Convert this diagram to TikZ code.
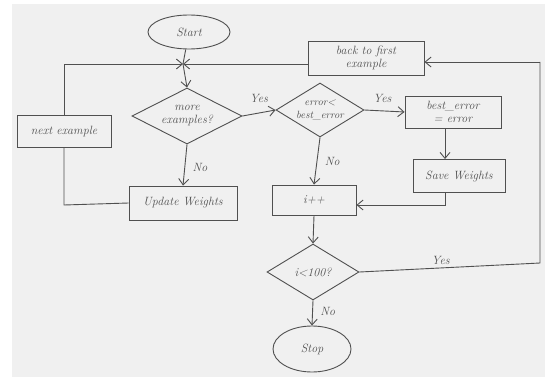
\documentclass[tikz,border=0pt]{standalone}
\usetikzlibrary{shapes.geometric,arrows.meta}
\definecolor{bg}{HTML}{F0F0F0}
\definecolor{ink}{HTML}{505050}
\begin{document}
\begin{tikzpicture}[x=1pt,y=-1pt,
  every node/.style={font=\itshape\fontsize{12}{13}\selectfont, text=ink},
  procbox/.style={draw=ink, line width=0.9pt, rectangle, inner sep=0pt, align=center},
  decide/.style={draw=ink, line width=0.9pt, diamond, inner sep=0pt, align=center, aspect=2},
  term/.style={draw=ink, line width=0.9pt, ellipse, inner sep=0pt},
  flow/.style={draw=ink, line width=0.9pt, -{Straight Barb[length=6pt,width=10pt]}},
  link/.style={draw=ink, line width=0.9pt},
  lbl/.style={font=\itshape\fontsize{12}{13}\selectfont}]
\useasboundingbox (0,0) rectangle (545,377);
\fill[white] (0,0) rectangle (545,377);
\fill[bg] (12,4) rectangle (545,377);

\node[term, minimum width=82pt, minimum height=34pt] (start) at (189,32) {Start};
\coordinate (join) at (183,64);
\node[decide, minimum width=110pt, minimum height=56pt] (more) at (187,116) {more\\examples?};
\node[procbox, minimum width=94pt, minimum height=32pt] (next) at (64,131) {next example};
\node[procbox, minimum width=108pt, minimum height=34pt] (update) at (183,203) {Update Weights};
\node[procbox, minimum width=116pt, minimum height=34pt] (back) at (366,58) {back to first\\example};
\node[decide, minimum width=88pt, minimum height=54pt] (err) at (320,110) {\fontsize{10.5}{11}\selectfont error<\\\fontsize{10.5}{11}\selectfont best\_error};
\node[procbox, minimum width=96pt, minimum height=32pt] (best) at (453,112) {best\_error\\= error};
\node[procbox, minimum width=92pt, minimum height=33pt] (save) at (459,176) {Save Weights};
\node[procbox, minimum width=84pt, minimum height=30pt] (inc) at (314,200) {i++};
\node[decide, minimum width=92pt, minimum height=56pt] (lim) at (313,272) {i<100?};
\node[term, minimum width=78pt, minimum height=46pt] (stop) at (312,349) {Stop};

\coordinate (lcorner) at (64,64);
\coordinate (ucorner) at (64,205);
\coordinate (rtop) at (540,62);
\coordinate (rbot) at (540,263);
\coordinate (sbend) at (445,205);

\draw[link] (start) -- (join);
\draw[flow] (next.north) -- (lcorner) -- (join);
\draw[flow] (back.west |- join) -- (join);
\draw[flow] (join) -- (more.north);
\draw[flow] (more.east) -- node[lbl, above, pos=0.5, yshift=7pt] {Yes} (err.west);
\draw[flow] (more.south) -- node[lbl, right, pos=0.55, xshift=4pt] {No} (update.north);
\draw[link] (update.west) -- (ucorner) -- (next.south);
\draw[flow] (err.east) -- node[lbl, above, pos=0.45, yshift=4pt] {Yes} (best.west);
\draw[flow] (err.south) -- node[lbl, right, pos=0.5, xshift=4pt] {No} (inc.north);
\draw[flow] (best.south -| save.north) ++(-14,0) coordinate (bs) -- (bs |- save.north);
\draw[flow] (bs |- save.south) -- (sbend) -- (sbend -| inc.east);
\draw[flow] (inc.south) -- (lim.north);
\draw[link] (lim.east) -- node[lbl, above, pos=0.45] {Yes} (rbot) -- (rtop);
\draw[flow] (rtop) -- (back.east |- rtop);
\draw[flow] (lim.south) -- node[lbl, right, pos=0.45, xshift=4pt] {No} (stop.north);
\end{tikzpicture}
\end{document}
